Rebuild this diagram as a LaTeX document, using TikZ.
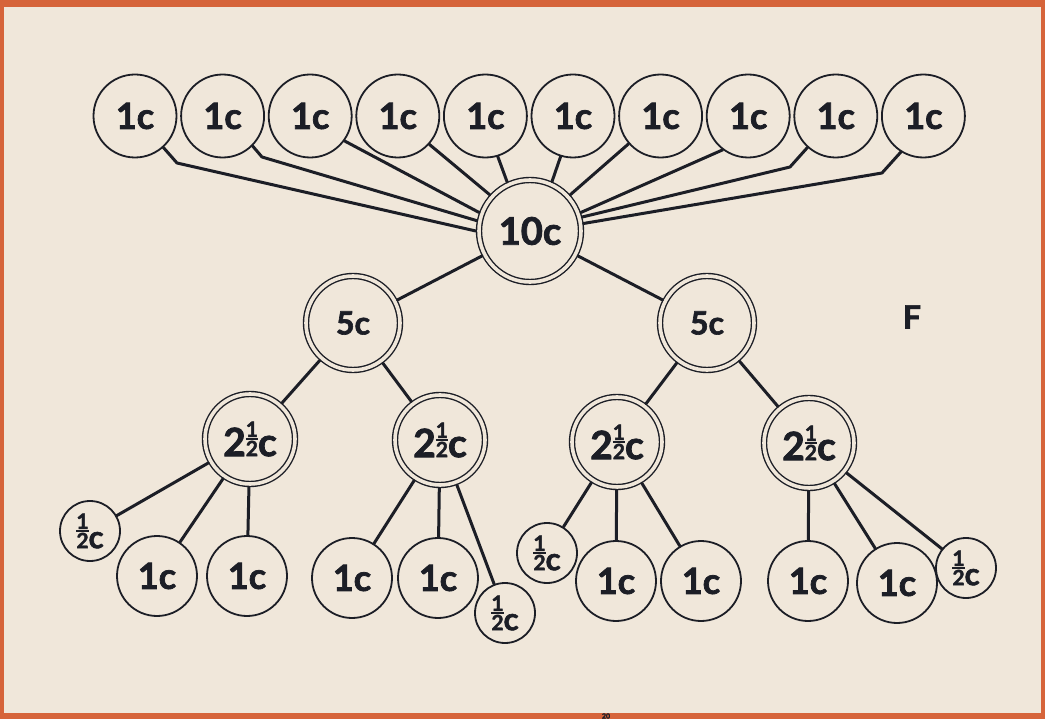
\documentclass[tikz,border=0pt]{standalone}
\usepackage{fontspec}
\setmainfont{Lato}[BoldFeatures={FakeBold=2}]
\definecolor{cream}{HTML}{F0E7DA}
\definecolor{frame}{HTML}{D6643A}
\definecolor{ink}{HTML}{1C1E26}
\newcommand\frc[1]{{\fontsize{#1}{#1}\selectfont\setbox0\hbox{2}\makebox[\wd0]{\raisebox{0.92em}{1}}\llap{\raisebox{0.78em}{\rule{\wd0}{0.08em}}}\llap{2}}}
\tikzset{
  coin/.style={circle,draw=ink,line width=1.8pt,fill=cream,inner sep=0pt,text=ink,
    font=\bfseries\fontsize{36}{36}\selectfont},
  one/.style={coin,minimum size=83pt},
  onesm/.style={coin,minimum size=80pt},
  halfc/.style={coin,minimum size=60pt,font=\bfseries\fontsize{31}{31}\selectfont},
  big/.style={circle,draw=ink,double=cream,double distance=3.6pt,line width=1.4pt,
    inner sep=0pt,outer sep=3.2pt,text=ink},
  conn/.style={draw=ink,line width=3pt,line join=round,line cap=round}
}
\begin{document}
\begin{tikzpicture}[x=1pt,y=-1pt]
\useasboundingbox (0,0) rectangle (1045,719);
\fill[frame] (0,0) rectangle (1045,719);
\fill[cream] (4,7) rectangle (1041,713);
% top row
\foreach \i in {1,...,10}{
  \node[one] (c\i) at ({135+87.6*(\i-1)},116) {1c};
}
\node[big,minimum size=102pt,font=\bfseries\fontsize{38}{38}\selectfont] (ten) at (530,231) {10c};
\node[big,minimum size=94pt,font=\bfseries\fontsize{32}{32}\selectfont] (fiveL) at (353,323) {5c};
\node[big,minimum size=94pt,font=\bfseries\fontsize{32}{32}\selectfont] (fiveR) at (707,323) {5c};
\foreach \n/\x/\y in {tA/250/439,tB/440/440,tC/617/442,tD/809/443}{
  \node[big,minimum size=90pt,font=\bfseries\fontsize{39}{39}\selectfont] (\n) at (\x,\y) {2\frc{21}c};
}
% leaves
\node[halfc] (hA) at (90,531) {\frc{21}c};
\node[onesm] (oA1) at (157,576) {1c};
\node[onesm] (oA2) at (247,576) {1c};
\node[onesm] (oB1) at (352,578) {1c};
\node[onesm] (oB2) at (438,578) {1c};
\node[halfc] (hB) at (505,613) {\frc{21}c};
\node[halfc] (hC) at (547,553) {\frc{21}c};
\node[onesm] (oC1) at (616,581) {1c};
\node[onesm] (oC2) at (701,581) {1c};
\node[onesm] (oD1) at (808,581) {1c};
\node[onesm] (oD2) at (897,583) {1c};
\node[halfc] (hD) at (966,568) {\frc{21}c};
\node[text=ink,font=\bfseries\fontsize{32}{32}\selectfont] (F) at (912,317) {F};
\node[text=ink,font=\bfseries\fontsize{7}{7}\selectfont,inner sep=0pt] (pg) at (606,716) {20};
% bends
\coordinate (b1) at (177,163);
\coordinate (b2) at (262,157);
\coordinate (b9) at (790,167);
\coordinate (b10) at (882,173);
% connectors top
\draw[conn] (c1.-48) -- (b1) -- (ten.180);
\draw[conn] (c2.-45) -- (b2) -- (ten.169);
\draw[conn] (c3.-36) -- (ten.160);
\draw[conn] (c4.-42) -- (ten.138);
\draw[conn] (c5.-73) -- (ten.115);
\draw[conn] (c6.-107) -- (ten.66);
\draw[conn] (c7.-139) -- (ten.42);
\draw[conn] (c8.-127) -- (ten.20);
\draw[conn] (c9.-132) -- (b9) -- (ten.15);
\draw[conn] (c10.-122) -- (b10) -- (ten.8);
% tree
\draw[conn] (ten) -- (fiveL);
\draw[conn] (ten) -- (fiveR);
\draw[conn] (fiveL) -- (tA);
\draw[conn] (fiveL) -- (tB);
\draw[conn] (fiveR) -- (tC);
\draw[conn] (fiveR) -- (tD);
\draw[conn] (tA) -- (hA);
\draw[conn] (tA) -- (oA1);
\draw[conn] (tA) -- (oA2);
\draw[conn] (tB) -- (oB1);
\draw[conn] (tB) -- (oB2);
\draw[conn] (tB) -- (hB);
\draw[conn] (tC) -- (hC);
\draw[conn] (tC) -- (oC1);
\draw[conn] (tC) -- (oC2);
\draw[conn] (tD) -- (oD1);
\draw[conn] (tD) -- (oD2);
\draw[conn] (tD) -- (hD);
\end{tikzpicture}
\end{document}
